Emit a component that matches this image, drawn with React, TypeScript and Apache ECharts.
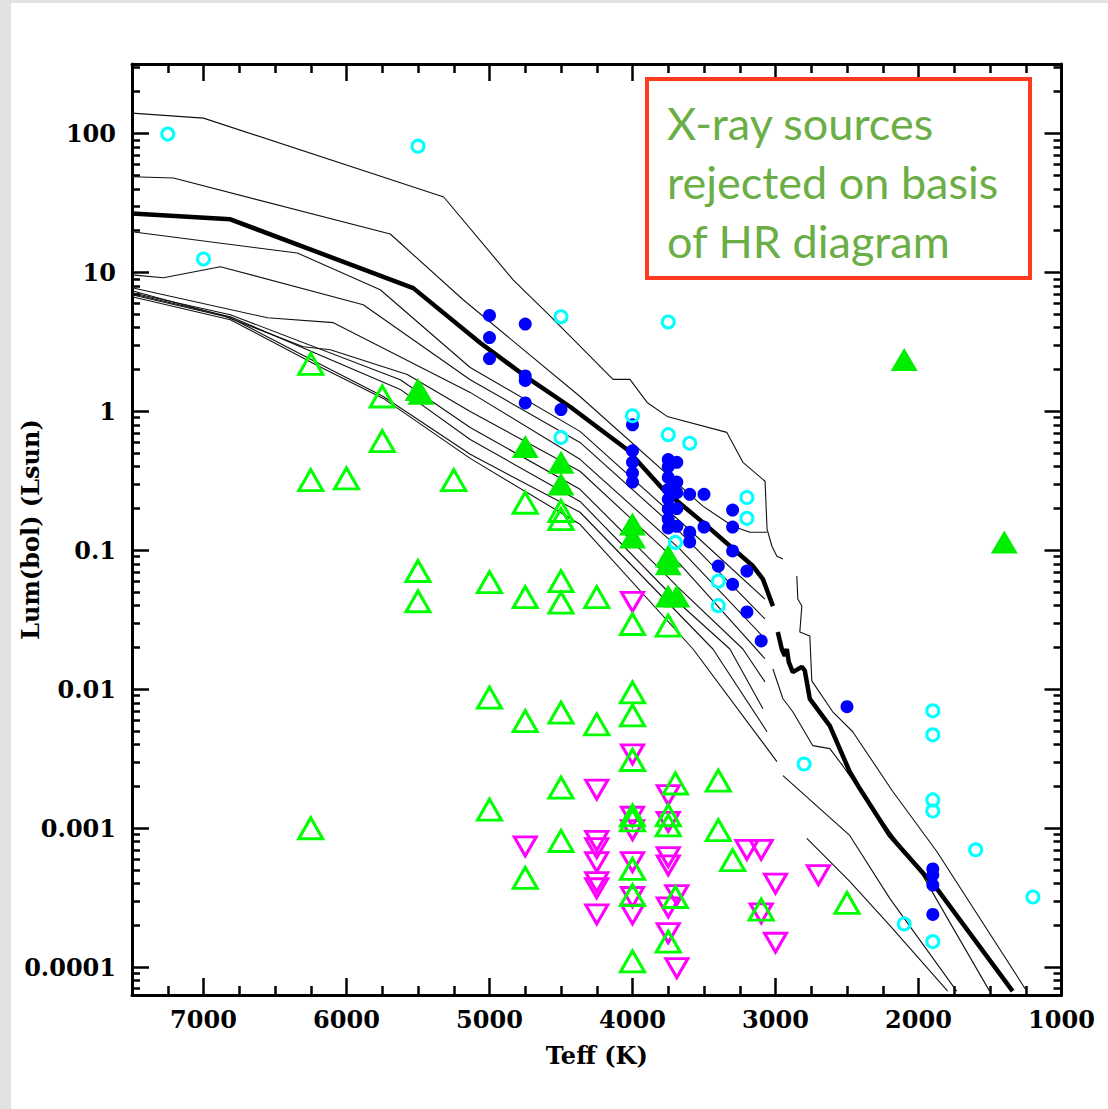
import React, { useEffect, useRef } from 'react';
import * as echarts from 'echarts';

// ---------- axis ticks / labels ----------
const xMajorTicks = [7000, 6000, 5000, 4000, 3000, 2000, 1000];
const xMinorTicks = [7250, 6750, 6500, 6250, 5750, 5500, 5250, 4750, 4500, 4250, 3750, 3500, 3250, 2750, 2500, 2250, 1750, 1500, 1250];
const yMajorTicks = [0.0001, 0.001, 0.01, 0.1, 1, 10, 100];
const yMinorTicks = [
  0.00007, 0.00008, 0.00009,
  0.0002, 0.0003, 0.0004, 0.0005, 0.0006, 0.0007, 0.0008, 0.0009,
  0.002, 0.003, 0.004, 0.005, 0.006, 0.007, 0.008, 0.009,
  0.02, 0.03, 0.04, 0.05, 0.06, 0.07, 0.08, 0.09,
  0.2, 0.3, 0.4, 0.5, 0.6, 0.7, 0.8, 0.9,
  2, 3, 4, 5, 6, 7, 8, 9,
  20, 30, 40, 50, 60, 70, 80, 90,
  200, 300,
];
const X_MIN = 1000;
const X_MAX = 7500;
const Y_MIN = 0.0000631;
const Y_MAX = 316.2;

// ---------- model tracks: [Teff, L] ----------
const isoTop = [[7500, 140], [7000, 129], [5320, 34.9], [4835, 8.85], [4600, 5.13], [4136, 1.7], [4018, 1.7], [3898, 1.16], [3758, 0.92], [3340, 0.706], [3228, 0.43], [3073, 0.314], [3059, 0.142], [3025, 0.107], [2990, 0.0908], [2948, 0.0865]];
const isoTopLow = [[2851, 0.0653], [2844, 0.0446], [2816, 0.0397], [2830, 0.0258], [2760, 0.0242], [2746, 0.0115], [2600, 0.00689], [2481, 0.0052], [2460, 0.00495], [2180, 0.00184], [1873, 0.000683], [1244, 0.0000675]];
const iso2 = [[7500, 48.8], [7210, 47.8], [5694, 18.9], [5184, 6.36], [4367, 1.28], [3508, 0.208], [3298, 0.149], [3179, 0.135], [3059, 0.135]];
const thickUpper = [[7500, 26.5], [6812, 24.1], [5533, 7.71], [5066, 3.12], [4716, 1.69], [4436, 1.08], [4038, 0.532], [3787, 0.275], [3508, 0.159], [3158, 0.0771], [3088, 0.0621], [3018, 0.0397]];
const thickLower = [[2984, 0.0258], [2956, 0.0195], [2935, 0.0174], [2921, 0.0195], [2907, 0.0157], [2879, 0.0133], [2816, 0.0145], [2795, 0.0136], [2760, 0.00853], [2620, 0.00546], [2481, 0.00255], [2411, 0.00193], [2201, 0.000888], [1873, 0.000369], [1342, 0.0000673]];
const b1 = [[7500, 19.6], [6344, 13.8], [5764, 7.5], [5135, 2.07], [4367, 0.718], [3668, 0.162], [3074, 0.0446]];
const b2 = [[7500, 9.61], [7280, 9.15], [6882, 11.0], [5883, 5.85], [5135, 1.69], [4367, 0.598], [3668, 0.135], [3074, 0.0321]];
const b3 = [[7500, 7.75], [6553, 4.72], [6092, 4.35], [5135, 1.37], [4367, 0.452], [3668, 0.102], [3074, 0.0231]];
const b4 = [[7500, 7.38], [6861, 4.88], [6302, 2.92], [6113, 2.78], [5575, 1.84], [5135, 0.998], [4367, 0.371], [3668, 0.0796], [3074, 0.0166]];
const b5 = [[7500, 7.14], [6812, 4.96], [5624, 1.69], [5135, 0.766], [4367, 0.275], [3668, 0.0526], [3228, 0.0195], [3074, 0.0113]];
const b6 = [[7500, 7.02], [6812, 4.8], [5624, 1.44], [5135, 0.628], [4367, 0.225], [3668, 0.0411], [3319, 0.0195], [3088, 0.00724]];
const b7 = [[7500, 6.9], [6812, 4.72], [6204, 2.24], [5743, 1.28], [5135, 0.491], [4367, 0.188], [3438, 0.0195], [3059, 0.00495]];
const b8 = [[7500, 6.68], [6812, 4.57], [6204, 2.14], [5743, 1.24], [5135, 0.459], [4367, 0.154], [3577, 0.0195], [2990, 0.00302]];
const d1 = [[2781, 0.000845], [2481, 0.000415], [2201, 0.0002], [1796, 0.0000673]];
const d2 = [[2948, 0.00239], [2481, 0.000888], [2201, 0.000313], [1733, 0.0000673]];
const d3 = [[3018, 0.014], [2948, 0.00855], [2879, 0.00689], [2739, 0.00393], [2620, 0.00374], [2530, 0.00282], [2481, 0.00239], [2201, 0.000948], [1971, 0.000458], [1503, 0.0000673]];

const thinTracks = [isoTop, isoTopLow, iso2, b1, b2, b3, b4, b5, b6, b7, b8, d1, d2, d3];
const thickTracks = [thickUpper, thickLower];

// ---------- sources: [Teff, L] ----------
const cyanOpen = [[7250, 99], [5500, 81], [7000, 12.5], [4500, 4.8], [3750, 4.4], [4500, 0.65], [4000, 0.93], [3750, 0.68], [3600, 0.59], [3200, 0.24], [3200, 0.17], [3700, 0.114], [3400, 0.06], [3400, 0.04], [2800, 0.0029], [1900, 0.007], [1900, 0.0047], [1900, 0.0016], [1900, 0.00133], [1600, 0.0007], [1200, 0.00032], [2100, 0.000205], [1900, 0.000153]];
const blueFilled = [[5000, 4.9], [5000, 3.4], [5000, 2.4], [4750, 4.25], [4750, 1.8], [4750, 1.67], [4750, 1.15], [4500, 1.03],
  [4000, 0.8], [4000, 0.52], [4000, 0.43], [4000, 0.36], [4000, 0.31],
  [3750, 0.45], [3750, 0.4], [3750, 0.335], [3750, 0.275], [3750, 0.233], [3750, 0.198], [3750, 0.168], [3750, 0.145],
  [3690, 0.43], [3690, 0.31], [3690, 0.26], [3690, 0.2], [3690, 0.149],
  [3600, 0.253], [3600, 0.135], [3600, 0.115], [3500, 0.253], [3500, 0.147],
  [3300, 0.195], [3300, 0.147], [3300, 0.099], [3300, 0.057], [3400, 0.077], [3200, 0.071], [3200, 0.036], [3100, 0.0223],
  [2500, 0.0075], [1900, 0.00051], [1900, 0.00046], [1900, 0.00039], [1900, 0.00024]];
const greenFilled = [[5500, 1.44], [5480, 1.35], [4750, 0.56], [4500, 0.43], [4500, 0.3], [4000, 0.155], [4000, 0.125], [3750, 0.091], [3750, 0.08], [3750, 0.047], [3690, 0.047], [2100, 2.36], [1400, 0.115]];
const greenOpen = [[6250, 2.2], [5750, 1.28], [5750, 0.61], [6250, 0.32], [6000, 0.33], [5250, 0.32], [4750, 0.22], [4500, 0.192], [4500, 0.168],
  [5500, 0.071], [5500, 0.043], [5000, 0.059], [4750, 0.046], [4500, 0.06], [4500, 0.042], [4250, 0.046], [4000, 0.0295], [3750, 0.0287],
  [5000, 0.0087], [4750, 0.0059], [4500, 0.0068], [4250, 0.0056], [4000, 0.0095], [4000, 0.0065], [4000, 0.0031],
  [4500, 0.00196], [5000, 0.00136], [3700, 0.0021], [3400, 0.0022], [4000, 0.00124], [4000, 0.00114], [3750, 0.00124], [3750, 0.00105],
  [4500, 0.00081], [4750, 0.00044], [4000, 0.00051], [4000, 0.00033], [3700, 0.00032], [3400, 0.00097], [3300, 0.00059], [3100, 0.00026],
  [3750, 0.000153], [4000, 0.00011], [2500, 0.00029], [6250, 0.001]];
const magentaDown = [[4000, 0.0425], [4000, 0.0034], [4250, 0.0019], [4750, 0.00074], [4250, 0.00081], [4250, 0.00072], [4250, 0.00057], [4250, 0.00041], [4250, 0.00037], [4250, 0.00024],
  [4000, 0.00121], [4000, 0.00097], [4000, 0.00057], [4000, 0.00032], [4000, 0.00024],
  [3750, 0.00173], [3750, 0.00111], [3750, 0.00062], [3750, 0.00054], [3750, 0.00027], [3750, 0.000176],
  [3690, 0.00033], [3690, 0.0000985], [3200, 0.0007], [3100, 0.0007], [3000, 0.0004], [3100, 0.000244], [3000, 0.00015], [2700, 0.00046]];

const noteLines = ['X-ray sources', 'rejected on basis', 'of HR diagram'];

const AXIS_FONT = "'DejaVu Serif', serif";

function fmtLog(v: number) {
  return String(Number(Number(v).toPrecision(1)));
}
function fmtPlain(v: number) {
  return String(Math.round(Number(v)));
}

export default function App() {
  const ref = useRef<HTMLDivElement>(null);
  useEffect(() => {
    if (!ref.current) return;
    const chart = echarts.init(ref.current, undefined, { renderer: 'svg' });
    const labelStyle = { color: '#000', fontFamily: AXIS_FONT, fontWeight: 'bold' as const, fontSize: 24 };
    const tickStyle = { color: '#000', width: 2.5 };
    const xBase = { type: 'value' as const, min: X_MIN, max: X_MAX, inverse: true, gridIndex: 0, splitLine: { show: false }, minorTick: { show: false } };
    const yBase = { type: 'log' as const, logBase: 10, min: Y_MIN, max: Y_MAX, gridIndex: 0, splitLine: { show: false }, minorTick: { show: false } };
    const option: any = {
      animation: false,
      backgroundColor: '#e2e2e2',
      graphic: [
        { type: 'rect', z: -10, shape: { x: 11, y: 3, width: 1097, height: 1106 }, style: { fill: '#ffffff' } },
        { type: 'rect', z: 100, shape: { x: 647, y: 79, width: 383, height: 199 }, style: { fill: '#ffffff', stroke: '#ff3b1f', lineWidth: 4 } },
        {
          type: 'text', z: 101, x: 667, y: 93,
          style: { text: noteLines.join('\n'), fill: '#6aae45', font: "45px Lato, 'Open Sans', sans-serif", lineHeight: 59, textVerticalAlign: 'top' },
        },
      ],
      grid: { left: 132, right: 46.5, top: 64, bottom: 114, containLabel: false, outerBoundsMode: 'none' },
      xAxis: [
        {
          ...xBase, position: 'bottom',
          axisLine: { show: true, lineStyle: { color: '#000', width: 3 } },
          axisTick: { show: true, inside: true, length: 17, customValues: xMajorTicks, lineStyle: tickStyle },
          axisLabel: { show: true, customValues: xMajorTicks, margin: 12, formatter: fmtPlain, ...labelStyle },
          name: 'Teff (K)', nameLocation: 'middle', nameGap: 48, nameMoveOverlap: false,
          nameTextStyle: { ...labelStyle, fontSize: 24 },
        },
        {
          ...xBase, position: 'bottom',
          axisLine: { show: false },
          axisTick: { show: true, inside: true, length: 9, customValues: xMinorTicks, lineStyle: tickStyle },
          axisLabel: { show: false },
        },
        {
          ...xBase, position: 'top',
          axisLine: { show: true, lineStyle: { color: '#000', width: 3 } },
          axisTick: { show: true, inside: true, length: 17, customValues: xMajorTicks, lineStyle: tickStyle },
          axisLabel: { show: false },
        },
        {
          ...xBase, position: 'top',
          axisLine: { show: false },
          axisTick: { show: true, inside: true, length: 9, customValues: xMinorTicks, lineStyle: tickStyle },
          axisLabel: { show: false },
        },
      ],
      yAxis: [
        {
          ...yBase, position: 'left',
          axisLine: { show: true, lineStyle: { color: '#000', width: 3 } },
          axisTick: { show: true, inside: true, length: 17, customValues: yMajorTicks, lineStyle: tickStyle },
          axisLabel: { show: true, customValues: yMajorTicks, margin: 16, formatter: fmtLog, ...labelStyle },
          name: 'Lum(bol) (Lsun)', nameLocation: 'middle', nameGap: 102, nameRotate: 90, nameMoveOverlap: false,
          nameTextStyle: { ...labelStyle, fontSize: 24, verticalAlign: 'middle' },
        },
        {
          ...yBase, position: 'left',
          axisLine: { show: false },
          axisTick: { show: true, inside: true, length: 8, customValues: yMinorTicks, lineStyle: tickStyle },
          axisLabel: { show: false },
        },
        {
          ...yBase, position: 'right',
          axisLine: { show: true, lineStyle: { color: '#000', width: 3 } },
          axisTick: { show: true, inside: true, length: 17, customValues: yMajorTicks, lineStyle: tickStyle },
          axisLabel: { show: false },
        },
        {
          ...yBase, position: 'right',
          axisLine: { show: false },
          axisTick: { show: true, inside: true, length: 8, customValues: yMinorTicks, lineStyle: tickStyle },
          axisLabel: { show: false },
        },
      ],
      series: [
        ...thinTracks.map((d) => ({
          type: 'line', data: d, xAxisIndex: 0, yAxisIndex: 0, symbol: 'none', showSymbol: false, silent: true, z: 1,
          lineStyle: { color: '#111', width: 1.1 },
        })),
        ...thickTracks.map((d) => ({
          type: 'line', data: d, xAxisIndex: 0, yAxisIndex: 0, symbol: 'none', showSymbol: false, silent: true, z: 1,
          lineStyle: { color: '#000', width: 4.5 },
        })),
        {
          type: 'scatter', data: magentaDown, symbol: 'triangle', symbolRotate: 180, symbolSize: [22, 19], z: 3,
          itemStyle: { color: 'rgba(0,0,0,0)', borderColor: '#ff00ff', borderWidth: 3, opacity: 1 },
        },
        {
          type: 'scatter', data: greenOpen, symbol: 'triangle', symbolSize: [24, 21], z: 4,
          itemStyle: { color: 'rgba(0,0,0,0)', borderColor: '#00ff00', borderWidth: 3, opacity: 1 },
        },
        {
          type: 'scatter', data: greenFilled, symbol: 'triangle', symbolSize: [27, 23], z: 5,
          itemStyle: { color: '#00ee00', opacity: 1 },
        },
        {
          type: 'scatter', data: blueFilled, symbol: 'circle', symbolSize: 13, z: 6,
          itemStyle: { color: '#0000ff', opacity: 1 },
        },
        {
          type: 'scatter', data: cyanOpen, symbol: 'circle', symbolSize: 12, z: 7,
          itemStyle: { color: 'rgba(0,0,0,0)', borderColor: '#00ffff', borderWidth: 3, opacity: 1 },
        },
      ],
    };
    chart.setOption(option);
    return () => chart.dispose();
  }, []);
  return <div ref={ref} style={{ position: 'absolute', left: 0, top: 0, width: 1108, height: 1109 }} />;
}
